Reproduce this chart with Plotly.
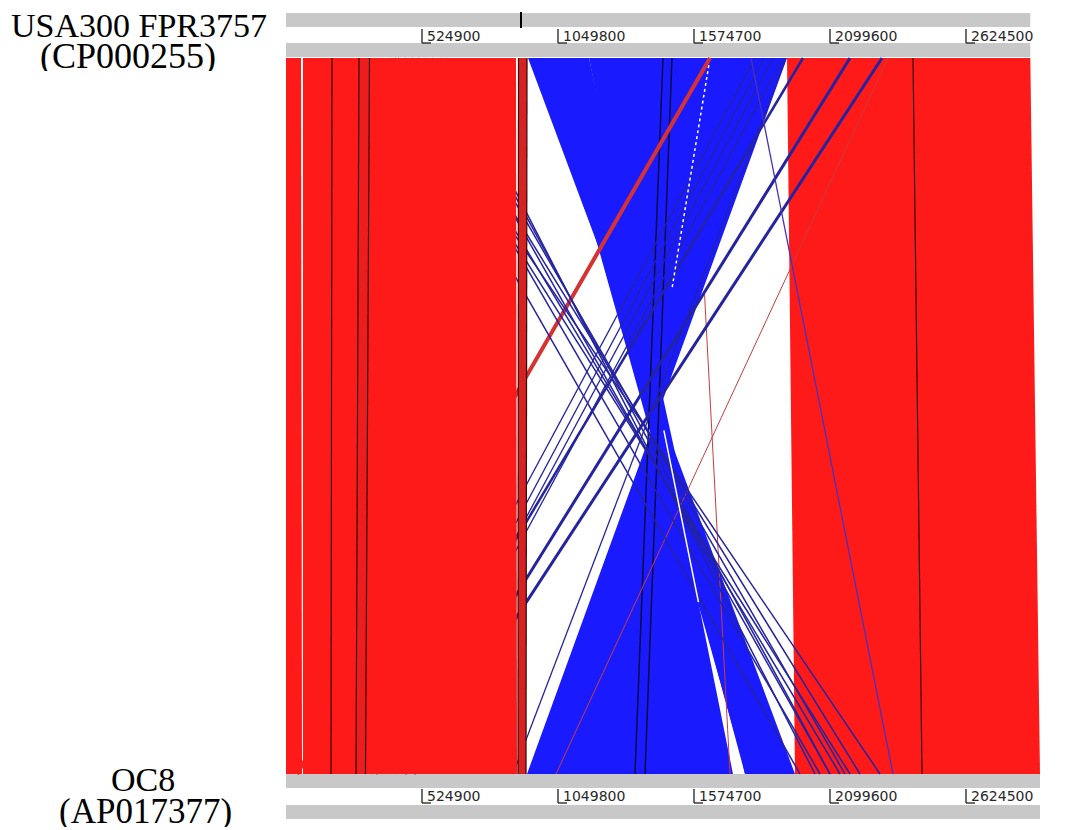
import plotly.graph_objects as go

# ---------------- data (base-pair coordinates) ----------------
TOP_NAME = ["USA300 FPR3757", "(CP000255)"]
BOT_NAME = ["OC8", "(AP017377)"]
TOP_LEN = 2872700
BOT_LEN = 2910100
TICKS = [524900, 1049800, 1574700, 2099600, 2624500]
CURSOR = 907000

# forward (same-orientation) matches: top start/end, bottom start/end, % identity
FWD_TOP_START = [0, 65600, 177500, 281800, 322300, 897300, 1933700, 2420000]
FWD_TOP_END = [57900, 177500, 281800, 322300, 887700, 930200, 2420000, 2872700]
FWD_BOT_START = [0, 65600, 173700, 270200, 306800, 895400, 1964500, 2454700]
FWD_BOT_END = [61800, 173700, 270200, 306800, 891600, 926300, 2454700, 2910100]
FWD_IDENT = [100, 100, 100, 97, 100, 93, 100, 100]

# inverted (reverse-orientation) matches
INV_TOP_START = [1169500, 934000, 1000000]
INV_TOP_END = [1933700, 1030500, 1169500]
INV_BOT_START = [930200, 1771600, 1771600]
INV_BOT_END = [1725200, 1964500, 1775500]

# boundaries between adjacent forward blocks (top -> bottom)
DIV_TOP = [177500, 281800, 322300, 897300, 930200, 2420000]
DIV_BOT = [173700, 270200, 306800, 895400, 926300, 2454700]

# short inverted repeats drawn as lines (top position -> bottom position)
REP_TOP = [2300300, 2176800, 1995400, 1918000, 1880000, 1845000, 1810000, 1929800,
           621400, 594400, 563500, 536500, 509500, 486300, 459300, 432300, 401400, 420700]
REP_BOT = [494000, 459300, 347400, 420000, 395000, 370000, 330000, 876100,
           2041700, 2099600, 2157500, 2099600, 2215400, 2138200, 2061000, 2176800, 1983800, 2292600]

# other single lines: inverted long thin, dark near-vertical, forward red lines
THIN_INV_TOP = [1794700]
THIN_INV_BOT = [2342800]
DARK_TOP = [1455000, 1489800]
DARK_BOT = [1347000, 1385600]
RED_TOP = [1636500, 2323500, 1567000]
RED_BOT = [42500, 1042100, 1713700]
RED_F0 = [0.0, 0.0, 0.33]     # fraction along the comparison where each line becomes visible

# unmatched gaps visible as white streaks: top, bottom, fraction start/end along the comparison
GAP_TOP = [1636500, 1169500]
GAP_BOT = [1181000, 1725200]
GAP_F0 = [0.01, 0.52]
GAP_F1 = [0.32, 0.76]

# ---------------- layout / style ----------------
W, H = 1066, 830
OFF = 8                      # page body margin of the html page
K = 524900 / 136.0           # bp per pixel
X_ORIGIN_PX = 286
Y_MATCH_TOP, Y_MATCH_BOT = 58, 774
RED = (255, 26, 26)
BLUE = "rgb(26,26,255)"
NAVY = "rgb(36,36,160)"
GRAY = "rgb(200,200,200)"
REP_W = [3, 3, 2.5, 1.3, 1.3, 1.3, 1.3, 1.3,
         1.5, 1.5, 1.5, 1.5, 1.5, 1.5, 1.5, 1.5, 1.5, 1.5]
RED_W = [4, 1, 1]

shapes = []
annotations = []


def red_for(ident):
    f = 1 - (100 - ident) * 0.022
    return "rgb(%d,%d,%d)" % (RED[0] * f, RED[1] * f + 8 * (1 - f) * 10, RED[2] * f + 8 * (1 - f) * 10)


def poly(pts, color):
    d = "M " + " L ".join("%.1f,%.2f" % p for p in pts) + " Z"
    shapes.append(dict(type="path", path=d, xref="x", yref="y", fillcolor=color,
                       line=dict(width=0), layer="above"))


def seg(x0, y0, x1, y1, color, width, dash="solid"):
    shapes.append(dict(type="line", x0=x0, y0=y0, x1=x1, y1=y1, xref="x", yref="y",
                       line=dict(color=color, width=width, dash=dash), layer="above"))


def rect(x0, x1, y0, y1, color):
    shapes.append(dict(type="rect", x0=x0, x1=x1, y0=y0, y1=y1, xref="x", yref="y",
                       fillcolor=color, line=dict(width=0), layer="above"))


def fwd(i):
    poly([(FWD_TOP_START[i], Y_MATCH_TOP), (FWD_TOP_END[i], Y_MATCH_TOP),
          (FWD_BOT_END[i], Y_MATCH_BOT), (FWD_BOT_START[i], Y_MATCH_BOT)], red_for(FWD_IDENT[i]))


def along(top, bot, f):
    return top + (bot - top) * f, Y_MATCH_TOP + (Y_MATCH_BOT - Y_MATCH_TOP) * f


# genome bars
rect(0, TOP_LEN, 13, 27, GRAY)
rect(0, TOP_LEN, 43, 57, GRAY)
rect(0, BOT_LEN, 774, 788, GRAY)
rect(0, BOT_LEN, 805, 819, GRAY)
seg(CURSOR, 12, CURSOR, 28, "black", 2)

# forward blocks right of the inversion (below the repeat lines)
left_ids = [i for i in range(len(FWD_TOP_START)) if FWD_TOP_START[i] < INV_TOP_START[1]]
right_ids = [i for i in range(len(FWD_TOP_START)) if i not in left_ids]
for i in right_ids:
    fwd(i)

# inverted blocks (twisted quadrilaterals)
for a, b, c, d in zip(INV_TOP_START, INV_TOP_END, INV_BOT_START, INV_BOT_END):
    poly([(a, Y_MATCH_TOP), (b, Y_MATCH_TOP), (c, Y_MATCH_BOT), (d, Y_MATCH_BOT)], BLUE)

for t, b in zip(DARK_TOP, DARK_BOT):
    seg(t, Y_MATCH_TOP, b, Y_MATCH_BOT, "rgb(12,12,70)", 1.5)

for t, b, w, f0 in zip(RED_TOP, RED_BOT, RED_W, RED_F0):
    x0, y0 = along(t, b, f0)
    seg(x0, y0, b, Y_MATCH_BOT, "rgb(215,50,50)" if w > 2 else "rgb(200,60,60)", w)

for t, b, w in zip(REP_TOP, REP_BOT, REP_W):
    seg(t, Y_MATCH_TOP, b, Y_MATCH_BOT, NAVY, w)

for t, b in zip(THIN_INV_TOP, THIN_INV_BOT):
    seg(t, Y_MATCH_TOP, b, Y_MATCH_BOT, "rgb(70,50,190)", 1.3)

for t, b, f0, f1, ds in zip(GAP_TOP, GAP_BOT, GAP_F0, GAP_F1, ["dot", "solid"]):
    x0, y0 = along(t, b, f0)
    x1, y1 = along(t, b, f1)
    seg(x0, y0, x1, y1, "white", 1.5, ds)

# forward blocks left of the inversion (on top)
for i in left_ids:
    fwd(i)

for t, b in zip(DIV_TOP, DIV_BOT):
    seg(t, Y_MATCH_TOP, b, Y_MATCH_BOT, "rgb(50,8,8)", 1.2)

# tick marks and labels
for tk in TICKS:
    for y0, y1 in [(29, 43), (789, 803)]:
        seg(tk, y0, tk, y1, "rgb(30,30,30)", 1.3)
        seg(tk, y1, tk + 9 * K, y1, "rgb(30,30,30)", 1.3)
        annotations.append(dict(x=tk + 2.5 * K, y=(y0 + y1) / 2 - 0.5, xref="x", yref="y",
                                text=str(tk), showarrow=False, xanchor="left", yanchor="middle",
                                font=dict(family="DejaVu Sans", size=14, color="rgb(40,40,40)")))

# genome names
for txt, cx, cy, fs in [(TOP_NAME[0], 139, 25, 34), (TOP_NAME[1], 128, 55, 36),
                        (BOT_NAME[0], 143, 779, 34), (BOT_NAME[1], 145, 811, 35)]:
    annotations.append(dict(x=(cx - OFF) / (W - OFF), y=cy, xref="paper", yref="y", text=txt,
                            showarrow=False, xanchor="center", yanchor="middle", height=31,
                            font=dict(family="Liberation Serif, Times New Roman, serif",
                                      size=fs, color="black")))

fig = go.Figure()
fig.update_layout(
    width=W - OFF, height=H - OFF, margin=dict(l=0, r=0, t=0, b=0),
    paper_bgcolor="white", plot_bgcolor="white", showlegend=False,
    xaxis=dict(range=[(OFF - X_ORIGIN_PX) * K, (W - X_ORIGIN_PX) * K], visible=False, fixedrange=True),
    yaxis=dict(range=[H, OFF], visible=False, fixedrange=True),
    shapes=shapes, annotations=annotations,
)
fig.write_html("out.html")
